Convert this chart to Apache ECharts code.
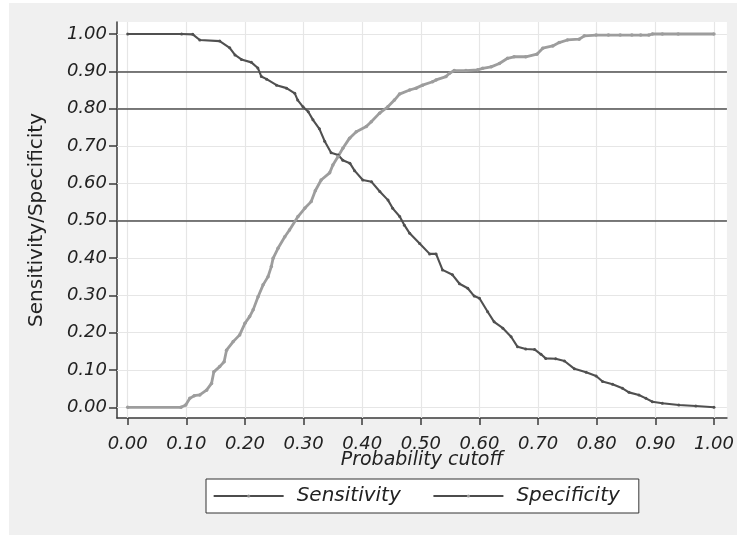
<!DOCTYPE html>
<html>
<head>
<meta charset="utf-8">
<script src="https://cdn.jsdelivr.net/npm/echarts@6/dist/echarts.min.js"></script>
<style>
html,body{margin:0;padding:0;background:#ffffff;}
#bg{position:absolute;left:9px;top:3px;width:728px;height:532px;background:#f0f0f0;}
#chart{position:absolute;left:0;top:0;width:737px;height:535px;}
</style>
</head>
<body>
<div id="bg"></div>
<div id="chart"></div>
<script>
// Tick values (both axes)
var ticks = [0, 0.1, 0.2, 0.3, 0.4, 0.5, 0.6, 0.7, 0.8, 0.9, 1.0];
// Reference lines
var refLines = [0.5, 0.8, 0.9];

// Sensitivity curve
var sensX = [0.000,0.092,0.111,0.123,0.157,0.174,0.183,0.194,0.211,0.222,0.228,0.237,0.254,0.271,0.285,0.290,0.299,0.308,0.316,0.327,0.336,0.347,0.359,0.367,0.379,0.387,0.401,0.416,0.430,0.444,0.452,0.464,0.472,0.481,0.498,0.515,0.526,0.537,0.554,0.566,0.580,0.591,0.600,0.614,0.625,0.640,0.654,0.665,0.679,0.694,0.705,0.713,0.730,0.745,0.762,0.782,0.799,0.810,0.827,0.844,0.855,0.872,0.884,0.895,0.912,0.940,0.969,1.000];
var sensY = [1.000,1.000,0.999,0.984,0.981,0.963,0.944,0.932,0.924,0.909,0.886,0.879,0.863,0.855,0.841,0.823,0.805,0.792,0.770,0.746,0.713,0.682,0.676,0.662,0.654,0.634,0.609,0.604,0.578,0.555,0.533,0.511,0.488,0.466,0.439,0.411,0.411,0.368,0.355,0.331,0.319,0.298,0.292,0.256,0.229,0.212,0.189,0.162,0.156,0.155,0.142,0.131,0.130,0.124,0.103,0.094,0.084,0.069,0.062,0.051,0.040,0.033,0.024,0.015,0.011,0.006,0.0035,0.000];

// Specificity curve
var specX = [0.000,0.091,0.099,0.106,0.1135,0.123,0.1345,0.143,0.147,0.157,0.1645,0.1686,0.180,0.191,0.200,0.208,0.214,0.2224,0.231,0.2394,0.245,0.248,0.2564,0.268,0.276,0.2905,0.302,0.313,0.320,0.330,0.3445,0.350,0.3586,0.367,0.3785,0.390,0.407,0.4155,0.4296,0.4437,0.455,0.4636,0.481,0.492,0.503,0.520,0.526,0.543,0.549,0.557,0.577,0.597,0.6055,0.620,0.634,0.648,0.659,0.679,0.698,0.708,0.725,0.736,0.750,0.770,0.779,0.799,0.820,0.840,0.860,0.875,0.889,0.895,0.912,0.939,1.000];
var specY = [0.000,0.000,0.006,0.024,0.031,0.033,0.046,0.064,0.095,0.109,0.122,0.153,0.176,0.194,0.225,0.243,0.261,0.296,0.328,0.350,0.377,0.399,0.426,0.457,0.475,0.511,0.533,0.551,0.580,0.609,0.628,0.649,0.671,0.694,0.721,0.738,0.752,0.765,0.788,0.805,0.823,0.839,0.850,0.855,0.863,0.872,0.877,0.886,0.895,0.902,0.902,0.904,0.908,0.912,0.921,0.935,0.939,0.939,0.946,0.962,0.968,0.977,0.984,0.986,0.995,0.997,0.997,0.997,0.997,0.997,0.997,1.000,1.000,1.000,1.000];

function zip(a, b) { return a.map(function (v, i) { return [v, b[i]]; }); }

var FONT = 'DejaVu Sans';
var AX = '#3a3a3a';

var chart = echarts.init(document.getElementById('chart'), null, {renderer: 'canvas'});
chart.setOption({
  animation: false,
  backgroundColor: 'transparent',
  grid: {left: 117, top: 22, width: 611, height: 396, show: true, backgroundColor: '#ffffff', borderWidth: 0, containLabel: false},
  xAxis: {
    type: 'value', min: -0.01822, max: 1.0221,
    name: 'Probability cutoff', nameLocation: 'middle', nameGap: 33, nameMoveOverlap: false,
    nameTextStyle: {fontFamily: FONT, fontStyle: 'italic', fontSize: 19, color: '#222'},
    axisLine: {show: true, onZero: false, lineStyle: {color: AX, width: 1.5}},
    axisTick: {show: true, customValues: ticks, length: 7, lineStyle: {color: AX, width: 1.5}},
    axisLabel: {customValues: ticks, formatter: function (v) { return v.toFixed(2); }, fontFamily: FONT, fontStyle: 'italic', fontSize: 18, color: '#222', margin: 17},
    splitLine: {show: false}
  },
  yAxis: {
    type: 'value', min: -0.02866, max: 1.03215,
    name: 'Sensitivity/Specificity', nameLocation: 'middle', nameGap: 70, nameRotate: 90,
    nameTextStyle: {fontFamily: FONT, fontSize: 20, color: '#222'},
    axisLine: {show: true, onZero: false, lineStyle: {color: AX, width: 1.5}},
    axisTick: {show: true, customValues: ticks, length: 8, lineStyle: {color: AX, width: 1.5}},
    axisLabel: {customValues: ticks, formatter: function (v) { return v.toFixed(2); }, fontFamily: FONT, fontStyle: 'italic', fontSize: 18, color: '#222', margin: 10},
    splitLine: {show: false}
  },
  legend: {
    left: 206, top: 479,
    orient: 'horizontal',
    backgroundColor: '#ffffff', borderColor: '#333', borderWidth: 1, borderRadius: 0,
    padding: [7, 19, 7, 7],
    itemWidth: 70, itemHeight: 4, itemGap: 32,
    lineStyle: {color: '#111', width: 1.3},
    itemStyle: {color: '#999'},
    textStyle: {fontFamily: FONT, fontStyle: 'italic', fontSize: 20, color: '#222', padding: [0, 0, 0, 8]},
    data: [
      {name: 'Sensitivity', lineStyle: {color: '#111', width: 1.3}, itemStyle: {color: '#888'}},
      {name: 'Specificity', lineStyle: {color: '#111', width: 1.3}, itemStyle: {color: '#999'}}
    ]
  },
  series: [
    {
      name: 'grid', type: 'line', data: [], silent: true, z: 1,
      markLine: {
        silent: true, symbol: 'none', z: 1, animation: false,
        label: {show: false},
        lineStyle: {color: '#e6e6e6', width: 1.2, type: 'solid'},
        emphasis: {disabled: true},
        data: ticks.map(function (v) { return {xAxis: v}; }).concat(ticks.map(function (v) { return {yAxis: v}; }))
      }
    },
    {
      name: 'ref', type: 'line', data: [], silent: true, z: 1,
      markLine: {
        silent: true, symbol: 'none', z: 2, animation: false,
        label: {show: false},
        lineStyle: {color: '#505050', width: 1.5, type: 'solid'},
        emphasis: {disabled: true},
        data: refLines.map(function (v) { return {yAxis: v}; })
      }
    },
    {
      name: 'Sensitivity', type: 'line', z: 3,
      data: zip(sensX, sensY),
      showSymbol: true, symbol: 'circle', symbolSize: 3,
      itemStyle: {color: '#505050'},
      lineStyle: {color: '#505050', width: 2.1},
      emphasis: {disabled: true}
    },
    {
      name: 'Specificity', type: 'line', z: 3,
      data: zip(specX, specY),
      showSymbol: true, symbol: 'circle', symbolSize: 3.5,
      itemStyle: {color: '#9d9d9d'},
      lineStyle: {color: '#9d9d9d', width: 2.8},
      emphasis: {disabled: true}
    }
  ]
});
</script>
</body>
</html>
